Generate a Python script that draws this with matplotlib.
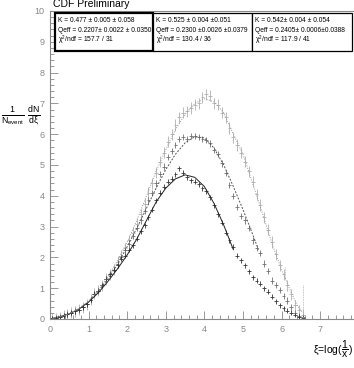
import numpy as np
import matplotlib
matplotlib.use("Agg")
import matplotlib.pyplot as plt
from matplotlib.ticker import MultipleLocator

plt.rcParams['font.family'] = ['Liberation Sans', 'DejaVu Sans']
plt.rcParams['mathtext.fontset'] = 'custom'
plt.rcParams['mathtext.rm'] = 'Liberation Sans'
plt.rcParams['mathtext.it'] = 'Liberation Sans'

# data points: bin centres (xi) and 1/N dN/dxi for three samples
xi = [0.05, 0.15, 0.25, 0.35, 0.45, 0.55, 0.65, 0.75, 0.85, 0.95,
      1.05, 1.15, 1.25, 1.35, 1.45, 1.55, 1.65, 1.75, 1.85, 1.95,
      2.05, 2.15, 2.25, 2.35, 2.45, 2.55, 2.65, 2.75, 2.85, 2.95,
      3.05, 3.15, 3.25, 3.35, 3.45, 3.55, 3.65, 3.75, 3.85, 3.95,
      4.05, 4.15, 4.25, 4.35, 4.45, 4.55, 4.65, 4.75, 4.85, 4.95,
      5.05, 5.15, 5.25, 5.35, 5.45, 5.55, 5.65, 5.75, 5.85, 5.95,
      6.05, 6.15, 6.25, 6.35, 6.45, 6.55]

low = [0.01, 0.03, 0.06, 0.10, 0.15, 0.20, 0.25, 0.30, 0.38, 0.48,
       0.62, 0.82, 0.92, 1.10, 1.30, 1.45, 1.60]

data_a = low + [1.75, 1.95, 2.05, 2.25, 2.40, 2.60, 2.85, 3.05, 3.30, 3.55,
                3.85, 4.10, 4.30, 4.45, 4.55, 4.70, 4.90, 4.75, 4.60, 4.50,
                4.45, 4.38, 4.25, 4.15, 3.95, 3.70, 3.40, 3.12, 2.80, 2.55,
                2.35, 2.05, 1.90, 1.75, 1.55, 1.35, 1.25, 1.15, 1.00, 0.88,
                0.72, 0.58, 0.45, 0.35, 0.27, 0.20, 0.13, 0.08, 0.04]
data_b = low + [1.80, 2.00, 2.25, 2.45, 2.70, 2.95, 3.20, 3.50, 3.85, 4.10,
                4.40, 4.70, 4.95, 5.25, 5.45, 5.65, 5.85, 5.90, 5.85, 5.95,
                5.95, 5.90, 5.85, 5.80, 5.70, 5.50, 5.35, 5.05, 4.75, 4.35,
                4.00, 3.65, 3.35, 3.20, 2.95, 2.55, 2.30, 2.13, 1.80, 1.55,
                1.25, 1.10, 0.95, 0.75, 0.60, 0.38, 0.20, 0.10, 0.05]
data_c = low + [1.85, 2.05, 2.30, 2.55, 2.80, 3.10, 3.40, 3.75, 4.10, 4.40,
                4.75, 5.10, 5.40, 5.75, 6.00, 6.30, 6.55, 6.70, 6.75, 6.85,
                6.95, 7.00, 7.20, 7.30, 7.25, 7.00, 6.95, 6.70, 6.55, 6.20,
                5.90, 5.65, 5.40, 5.10, 4.80, 4.45, 4.05, 3.70, 3.30, 2.90,
                2.50, 2.10, 1.75, 1.45, 1.10, 0.80, 0.45, 0.28, 0.13]

# fitted curves
fit_a_x = [0, 0.25, 0.5, 0.75, 1.0, 1.25, 1.5, 1.75, 2.0, 2.25, 2.5, 2.75,
           3.0, 3.25, 3.5, 3.75, 4.0, 4.25, 4.5, 4.75]
fit_a_y = [0, 0.07, 0.17, 0.32, 0.55, 0.85, 1.22, 1.63, 2.08, 2.6, 3.2, 3.8,
           4.25, 4.55, 4.68, 4.6, 4.3, 3.75, 3.05, 2.25]
fit_b_x = [0, 0.25, 0.5, 0.75, 1.0, 1.25, 1.5, 1.75, 2.0, 2.25, 2.5, 2.75,
           3.0, 3.25, 3.5, 3.75, 4.0, 4.25, 4.5, 4.75, 5.0, 5.25, 5.4]
fit_b_y = [0, 0.07, 0.17, 0.33, 0.57, 0.9, 1.3, 1.78, 2.35, 2.95, 3.6, 4.25,
           4.85, 5.35, 5.72, 5.92, 5.88, 5.55, 5.0, 4.3, 3.55, 2.75, 2.25]
fit_c_x = [0, 0.25, 0.5, 0.75, 1.0, 1.25, 1.5, 1.75, 2.0, 2.25, 2.5, 2.75,
           3.0, 3.25, 3.5, 3.75, 4.0, 4.25, 4.5, 4.75, 5.0, 5.25, 5.5, 5.75,
           6.0, 6.2, 6.4, 6.55]
fit_c_y = [0, 0.07, 0.17, 0.34, 0.58, 0.93, 1.38, 1.9, 2.5, 3.2, 4.0, 4.8,
           5.5, 6.15, 6.65, 7.0, 7.15, 7.05, 6.7, 6.0, 5.35, 4.4, 3.45, 2.45,
           1.6, 1.0, 0.45, 0.2]

err_a = 0.08
err_b = 0.1
err_c = 0.18

box_texts = [
    ["K = 0.477 \u00b1 0.005 \u00b1 0.058",
     "Qeff = 0.2207\u00b1 0.0022 \u00b1 0.0350",
     "$\\chi^{2}$/ndf = 157.7 / 31"],
    ["K = 0.525 \u00b1 0.004 \u00b10.051",
     "Qeff = 0.2300 \u00b10.0026 \u00b10.0379",
     "$\\chi^{2}$/ndf = 130.4 / 36"],
    ["K = 0.542\u00b1 0.004 \u00b1 0.054",
     "Qeff = 0.2405\u00b1 0.0006\u00b10.0388",
     "$\\chi^{2}$/ndf = 117.9 / 41"],
]

W, H = 354, 368
fig = plt.figure(figsize=(W / 100, H / 100), dpi=100)
ax = fig.add_axes([50 / W, 1 - 319 / H, 304 / W, 308 / H])

ax.errorbar(xi, data_c, xerr=0.05, yerr=err_c, fmt='none', ecolor='#b0b0b0', elinewidth=0.6, capsize=0)
ax.errorbar(xi, data_b, xerr=0.05, yerr=err_b, fmt='none', ecolor='#707070', elinewidth=0.6, capsize=0)
ax.errorbar(xi, data_a, xerr=0.05, yerr=err_a, fmt='none', ecolor='#333333', elinewidth=0.6, capsize=0)
# long error bars in the tail of the light sample
ax.vlines([6.1, 6.55], [1.3, 0.0], [1.7, 1.1], colors='#b0b0b0', linestyles=(0, (1, 1)), linewidth=0.6)

ax.plot(fit_a_x, fit_a_y, color='#222222', lw=0.7)
ax.plot(fit_b_x, fit_b_y, color='#555555', lw=0.7, ls=(0, (2, 1.5)))
ax.plot(fit_c_x, fit_c_y, color='#999999', lw=0.7, ls=(0, (1, 1.5)))

ax.set_xlim(0, 304 / 38.6)
ax.set_ylim(0, 10)
ax.xaxis.set_major_locator(MultipleLocator(1))
ax.xaxis.set_minor_locator(MultipleLocator(0.2))
ax.yaxis.set_major_locator(MultipleLocator(1))
ax.yaxis.set_minor_locator(MultipleLocator(0.2))
ax.tick_params(which='both', direction='in', colors='#888888', labelcolor='#888888', width=0.6)
ax.tick_params(which='major', length=6, labelsize=6.5, pad=4)
ax.tick_params(which='minor', length=3)
ax.tick_params(axis='x', pad=4)
for s in ax.spines.values():
    s.set_color('#888888')
    s.set_linewidth(0.8)
ax.spines['right'].set_visible(False)

# fit result boxes
edges = [55, 153, 252, 352]
for i, lines in enumerate(box_texts):
    x0, x1 = edges[i], edges[i + 1]
    lw = 1.6 if i == 0 else 0.9
    fig.patches.append(plt.Rectangle((x0 / W, 1 - 51 / H), (x1 - x0) / W, 38 / H,
                                     transform=fig.transFigure, fill=True, facecolor='white',
                                     edgecolor='black', linewidth=lw, zorder=5))
    for j, t in enumerate(lines):
        fig.text((x0 + 3) / W, 1 - (21 + j * 9.5) / H, t, fontsize=4.8, va='center', ha='left', zorder=6)

fig.text(53 / W, 1 - 4 / H, "CDF Preliminary", fontsize=7.5, va='center', ha='left')
fig.text(1 / W, 1 - 116 / H, r'$\frac{1}{N_{event}}\ \frac{dN}{d\xi}$', fontsize=9,
         va='center', ha='left')
fig.text(353 / W, 1 - 349 / H, r'$\xi$=log($\dfrac{1}{x}$)', fontsize=7.5, va='center', ha='right')

fig.savefig("out.png", dpi=100)
